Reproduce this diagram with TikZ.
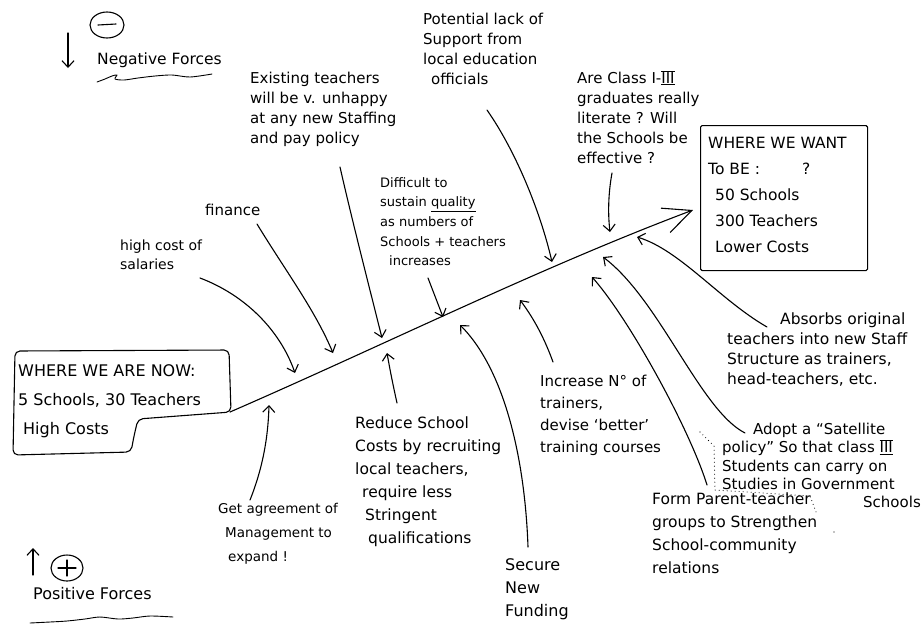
\documentclass[tikz,border=0pt]{standalone}
\usepackage{fontspec}
\setmainfont{DejaVu Sans}
\usetikzlibrary{arrows.meta}
% Roman numeral with bars above and below
\newcommand{\romanbar}[1]{$\overline{\underline{\hbox{#1}}}$}
\begin{document}
\begin{tikzpicture}[x=1pt,y=-1pt,
  ink/.style={line width=1.1pt, line cap=round, line join=round},
  force/.style={ink, -{Straight Barb[length=6.5pt,width=12pt]}},
  note/.style 2 args={inner sep=0pt, anchor=north west, align=left,
    font=\fontsize{#1}{#2}\selectfont},
]
\useasboundingbox (0,0) rectangle (923,625);

% ---------- legend: negative forces ----------
\draw[ink] (107,25) ellipse [x radius=17, y radius=13];
\draw[ink] (98,25) -- (116,24);
\coordinate (negtop) at (68,33);
\coordinate (negbot) at (68,68);
\draw[force] (negtop) -- (negbot);
\node[note={15.5}{18}] (negative) at (97,53) {Negative Forces};
\draw[ink, line width=0.9pt] plot[smooth] coordinates
  {(97,82) (105,79) (112,76) (117,75) (115,79) (124,80) (138,78) (155,76) (172,75) (190,77) (212,74)};

% ---------- legend: positive forces ----------
\draw[ink] (67,568) ellipse [x radius=16, y radius=13];
\draw[ink] (58,568) -- (76,568);
\draw[ink] (67,560) -- (67,576);
\coordinate (posbot) at (33,575);
\coordinate (postop) at (33,548);
\draw[force] (posbot) -- (postop);
\node[note={16}{18}] (positive) at (33,587) {Positive Forces};
\draw[ink, line width=0.9pt] plot[smooth] coordinates
  {(30,623) (50,622) (67,621) (85,619) (100,617) (118,619) (133,618) (150,616) (173,617)};

% ---------- present state ----------
\draw[ink, rounded corners=5pt]
  (15,351) -- (229,350) -- (231,412) -- (138,419) -- (134,436) -- (131,452)
  -- (13,455) -- cycle;
\node[note={16}{29}] (now) at (18,364)
  {WHERE WE ARE NOW:\\5 Schools, 30 Teachers\\\hspace*{5pt}High Costs};

% ---------- desired state ----------
\node[draw, ink, anchor=north west, inner sep=0pt, minimum width=167pt,
  minimum height=145pt, rounded corners=1.5pt] (want) at (700,125) {};
\node[note={15.5}{26}] (wanttext) at (708,137)
  {WHERE WE WANT\\To BE :\hspace{42pt}?\\\hspace*{7pt}50 Schools\\\hspace*{7pt}300 Teachers\\\hspace*{7pt}Lower Costs};

% ---------- main line ----------
\coordinate (start) at (230,412);
\coordinate (goal) at (693,210);
\draw[ink, -{Straight Barb[length=28pt,width=26pt]}]
  (start) .. controls (384,345) and (539,268) .. (goal);

% ---------- negative forces ----------
\node[note={14}{19}] (salaries) at (120,240) {high cost of\\salaries};
\coordinate (s1) at (200,278); \coordinate (e1) at (295,373);
\draw[force] (s1) .. controls (245,295) and (280,330) .. (e1);

\node[note={15}{20}] (finance) at (205,204) {finance};
\coordinate (s2) at (257,224); \coordinate (e2) at (333,353);
\draw[force] (s2) .. controls (285,270) and (315,310) .. (e2);

\node[note={15}{20}] (existing) at (250,72)
  {Existing teachers\\will be v. unhappy\\at any new Staffing\\and pay policy};
\coordinate (s3) at (340,167); \coordinate (e3) at (382,338);
\draw[force] (s3) .. controls (352,220) and (370,290) .. (e3);

\node[note={13}{19.7}] (quality) at (380,177)
  {Difficult to\\sustain \underline{quality}\\as numbers of\\Schools + teachers\\\hspace*{9pt}increases};
\coordinate (s4) at (428,278); \coordinate (e4) at (443,317);
\draw[force] (s4) -- (e4);

\node[note={15}{20}] (support) at (423,13)
  {Potential lack of\\Support from\\local education\\\hspace*{8pt}officials};
\coordinate (s5) at (487,110); \coordinate (e5) at (552,262);
\draw[force] (s5) .. controls (515,150) and (540,210) .. (e5);

\node[note={15}{20}] (literate) at (577,70)
  {Are Class I-\romanbar{III}\\graduates really\\literate ? Will\\the Schools be\\effective ?};
\coordinate (s6) at (612,173); \coordinate (e6) at (610,232);
\draw[force] (s6) .. controls (608,195) and (608,215) .. (e6);

% ---------- positive forces ----------
\node[note={13.5}{24}] (agreement) at (218,503)
  {Get agreement of\\\hspace*{7pt}Management to\\\hspace*{10pt}expand !};
\coordinate (s7) at (250,500); \coordinate (e7) at (269,405);
\draw[force] (s7) .. controls (262,470) and (268,440) .. (e7);

\node[note={15.5}{23}] (reduce) at (355,417)
  {Reduce School\\Costs by recruiting\\local teachers,\\\hspace*{7pt}require less\\\hspace*{10pt}Stringent\\\hspace*{13pt}qualifications};
\coordinate (s8) at (397,403); \coordinate (e8) at (387,353);
\draw[force] (s8) .. controls (393,385) and (390,370) .. (e8);

\node[note={16}{23}] (funding) at (505,558) {Secure\\New\\Funding};
\coordinate (s9) at (528,547); \coordinate (e9) at (460,325);
\draw[force] (s9) .. controls (525,460) and (505,370) .. (e9);

\node[note={15}{22}] (trainers) at (540,375)
  {Increase N° of\\trainers,\\devise ‘better’\\training courses};
\coordinate (s10) at (553,362); \coordinate (e10) at (520,300);
\draw[force] (s10) .. controls (545,340) and (535,320) .. (e10);

\node[note={15.5}{23}] (parents) at (652,493)
  {Form Parent-teacher\\groups to Strengthen\\School-community\\relations};
\coordinate (s11) at (707,485); \coordinate (e11) at (592,277);
\draw[force] (s11) .. controls (690,430) and (630,320) .. (e11);

\node[note={15}{18.3}] (satellite) at (722,423)
  {\hspace*{31pt}Adopt a “Satellite\\policy” So that class \romanbar{III}\\Students can carry on\\Studies in Government\\\hspace*{141pt}Schools};
\coordinate (s12) at (745,433); \coordinate (e12) at (603,257);
\draw[force] (s12) .. controls (700,410) and (660,300) .. (e12);

\node[note={15.5}{20}] (absorb) at (727,313)
  {\hspace*{53pt}Absorbs original\\teachers into new Staff\\Structure as trainers,\\head-teachers, etc.};
\coordinate (s13) at (767,327); \coordinate (e13) at (637,237);
\draw[force] (s13) .. controls (720,300) and (680,250) .. (e13);

% dotted grouping mark beside the satellite policy
\draw[line width=1.1pt, line cap=round, dash pattern=on 0pt off 4pt]
  (700,432) -- (714,446) -- (715,490) -- (810,496) -- (816,512);
\fill (834,532) circle (0.7);

\end{tikzpicture}
\end{document}
